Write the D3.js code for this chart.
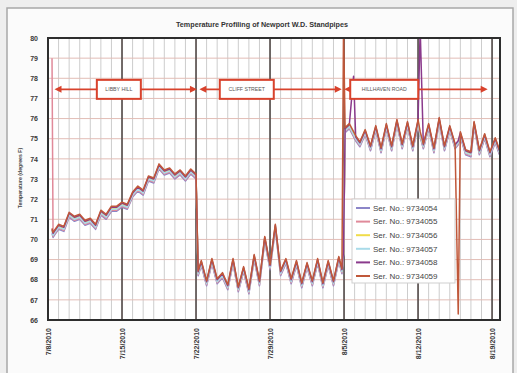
<!DOCTYPE html>
<html><head><meta charset="utf-8">
<script src="https://cdn.jsdelivr.net/npm/d3@7"></script>
<style>
body{margin:0;background:#eeeeee;}
svg{display:block;font-family:"Liberation Sans",Arial,sans-serif;}
</style></head><body>
<svg id="chart" width="517" height="373"></svg>
<script>
// ---- data ----
const title = "Temperature Profiling of Newport W.D. Standpipes";
const yLabel = "Temperature (degrees F)";
const yTicks = [66,67,68,69,70,71,72,73,74,75,76,77,78,79,80];
const xTickDays = [0,7,14,21,28,35,42];
const xTickLabels = ["7/8/2010","7/15/2010","7/22/2010","7/29/2010","8/5/2010","8/12/2010","8/19/2010"];
const seriesNames = ["Ser. No.: 9734054","Ser. No.: 9734055","Ser. No.: 9734056","Ser. No.: 9734057","Ser. No.: 9734058","Ser. No.: 9734059"];
const seriesColors = ["#8c86c8","#e08a9a","#f0dc4a","#a9dbe9","#8a3a8c","#c0583a"];
const sites = ["LIBBY HILL","CLIFF STREET","HILLHAVEN ROAD"];
const siteStartDays = [0.9,14.6,28.3];
const siteEndDays = [13.8,27.5,41.3];
const siteLabelDays = [6.7,18.8,31.8];
const arrowTemp = 77.45;
// days since 7/8/2010
const days = [0.38,0.48,0.6,1,1.5,2,2.5,3,3.5,4,4.5,5,5.5,6,6.5,7,7.5,8,8.5,9,9.5,10,10.5,11,11.5,12,12.5,13,13.5,14,14.2,14.5,15,15.5,16,16.5,17,17.5,18,18.5,19,19.5,20,20.5,21,21.5,22,22.5,23,23.5,24,24.5,25,25.5,26,26.5,27,27.5,27.8,27.95,28.1,28.5,28.9,29.1,29.5,30,30.5,31,31.5,32,32.5,33,33.5,34,34.5,35,35.2,35.5,36,36.5,37,37.5,38,38.5,38.8,39,39.5,40,40.3,40.8,41.3,41.8,42.3,42.7];
const s9734054 = [70.3,70.1,70.2,70.5,70.4,71.1,70.9,71.0,70.7,70.8,
70.5,71.2,71.0,71.4,71.4,71.6,71.5,72.1,72.4,72.2,
72.9,72.8,73.5,73.2,73.3,73.0,73.2,72.9,73.25,73.0,
68.2,68.7,67.7,68.8,67.8,68.1,67.5,68.8,67.4,68.4,
67.3,69.0,67.7,69.9,68.5,70.5,68.2,68.8,67.8,68.7,
67.6,68.6,67.7,68.8,67.6,68.7,67.7,68.9,68.3,69.2,
75.3,75.5,75.1,74.9,74.6,75.2,74.4,75.4,74.3,75.5,
74.4,75.7,74.5,75.6,74.4,75.7,75.1,74.5,75.5,74.3,
75.8,74.4,75.4,74.5,74.7,75.1,74.2,74.1,75.6,74.2,
75.0,74.1,74.8,74.2];
const s9734055 = [79.0,70.15,70.25,70.55,70.45,71.15,70.95,71.05,70.75,70.85,
70.55,71.25,71.05,71.45,71.45,71.65,71.55,72.15,72.45,72.25,
72.95,72.85,73.55,73.25,73.35,73.05,73.25,72.95,73.3,73.05,
68.25,68.75,67.75,68.85,67.85,68.15,67.55,68.85,67.45,68.45,
67.35,69.05,67.75,69.95,68.55,70.55,68.25,68.85,67.85,68.75,
67.65,68.65,67.75,68.85,67.65,68.75,67.75,68.95,68.35,69.25,
75.35,75.55,75.15,74.95,74.65,75.25,74.45,75.45,74.35,75.55,
74.45,75.75,74.55,75.65,74.45,75.75,75.15,74.55,75.55,74.35,
75.85,74.45,75.45,74.55,74.75,75.15,74.25,74.15,75.65,74.25,
75.05,74.15,74.85,74.25];
const s9734056 = [70.45,70.25,70.35,70.65,70.55,71.25,71.05,71.15,70.85,70.95,
70.65,71.35,71.15,71.55,71.55,71.75,71.65,72.25,72.55,72.35,
73.05,72.95,73.65,73.35,73.45,73.15,73.35,73.05,73.4,73.15,
68.35,68.85,67.85,68.95,67.95,68.25,67.65,68.95,67.55,68.55,
67.45,69.15,67.85,70.05,68.65,70.65,68.35,68.95,67.95,68.85,
67.75,68.75,67.85,68.95,67.75,68.85,67.85,69.05,68.45,69.35,
75.45,75.65,75.25,75.05,74.75,75.35,74.55,75.55,74.45,75.65,
74.55,75.85,74.65,75.75,74.55,75.85,75.25,74.65,75.65,74.45,
75.95,74.55,75.55,74.65,74.85,75.25,74.35,74.25,75.75,74.35,
75.15,74.25,74.95,74.35];
const s9734057 = [70.4,70.2,70.3,70.6,70.5,71.2,71.0,71.1,70.8,70.9,
70.6,71.3,71.1,71.5,71.5,71.7,71.6,72.2,72.5,72.3,
73.0,72.9,73.6,73.3,73.4,73.1,73.3,73.0,73.35,73.1,
68.3,68.8,67.8,68.9,67.9,68.2,67.6,68.9,67.5,68.5,
67.4,69.1,67.8,70.0,68.6,70.6,68.3,68.9,67.9,68.8,
67.7,68.7,67.8,68.9,67.7,68.8,67.8,69.0,68.4,69.3,
75.4,75.6,75.2,75.0,74.7,75.3,74.5,75.5,74.4,75.6,
74.5,75.8,74.6,75.7,74.5,75.8,75.2,74.6,75.6,74.4,
75.9,74.5,75.5,74.6,74.8,75.2,74.3,74.2,75.7,74.3,
75.1,74.2,74.9,74.3];
const s9734058 = [70.5,70.3,70.4,70.7,70.6,71.3,71.1,71.2,70.9,71.0,
70.7,71.4,71.2,71.6,71.6,71.8,71.7,72.3,72.6,72.4,
73.1,73.0,73.7,73.4,73.5,73.2,73.4,73.1,73.45,73.2,
68.4,68.9,67.9,69.0,68.0,68.3,67.7,69.0,67.6,68.6,
67.5,69.2,67.9,70.1,68.7,70.7,68.4,69.0,68.0,68.9,
67.8,68.8,67.9,69.0,67.8,68.9,67.9,69.1,68.5,69.4,
75.5,75.7,78.1,75.1,74.8,75.4,74.6,75.6,74.5,75.7,
74.6,75.9,74.7,75.8,74.6,75.9,80.5,74.7,75.7,74.5,
76.0,74.6,75.6,74.7,74.9,75.3,74.4,74.3,75.8,74.4,
75.2,74.3,75.0,74.4];
const s9734059 = [70.55,70.35,70.45,70.75,70.65,71.35,71.15,71.25,70.95,71.05,
70.75,71.45,71.25,71.65,71.65,71.85,71.75,72.35,72.65,72.45,
73.15,73.05,73.75,73.45,73.55,73.25,73.45,73.15,73.5,73.25,
68.45,68.95,67.95,69.05,68.05,68.35,67.75,69.05,67.65,68.65,
67.55,69.25,67.95,70.15,68.75,70.75,68.45,69.05,68.05,68.95,
67.85,68.85,67.95,69.05,67.85,68.95,67.95,69.15,68.55,80.5,
75.55,75.75,75.35,75.15,74.85,75.45,74.65,75.65,74.55,75.75,
74.65,75.95,74.75,75.85,74.65,75.95,75.35,74.75,75.75,74.55,
76.05,74.65,75.65,74.75,66.3,75.35,74.45,74.35,75.85,74.45,
75.25,74.35,75.05,74.45];
const seriesValues = [s9734054,s9734055,s9734056,s9734057,s9734058,s9734059];

// ---- chart ----
const svg = d3.select("#chart");
const L = 48, R = 500, T = 38, B = 320;
const x = d3.scaleLinear().domain([0, 42.75]).range([L, R]);
const y = d3.scaleLinear().domain([66, 80]).range([B, T]);

// outer frame
svg.append("rect").attr("x",7).attr("y",8).attr("width",506).attr("height",380)
  .attr("fill","#fbfbfb").attr("stroke","#a8a8a8").attr("stroke-width",1.5);

svg.append("text").attr("x",262).attr("y",27).attr("text-anchor","middle")
  .attr("font-size",7.2).attr("font-weight","bold").attr("fill","#333").text(title);

// plot background
svg.append("rect").attr("x",L).attr("y",T).attr("width",R-L).attr("height",B-T).attr("fill","#fff");

// grid
const g = svg.append("g");
const dayLines = d3.range(1, 43).filter(d => d % 7 !== 0);
g.selectAll(".vmin").data(dayLines).enter().append("line")
  .attr("x1",d=>x(d)).attr("x2",d=>x(d)).attr("y1",T).attr("y2",B)
  .attr("stroke","#cdcdcd").attr("stroke-width",1);
g.selectAll(".hmaj").data(yTicks).enter().append("line")
  .attr("x1",L).attr("x2",R).attr("y1",d=>y(d)).attr("y2",d=>y(d))
  .attr("stroke","#e2bdb6").attr("stroke-width",1);
g.selectAll(".vmaj").data(xTickDays.slice(1)).enter().append("line")
  .attr("x1",d=>x(d)).attr("x2",d=>x(d)).attr("y1",T).attr("y2",B)
  .attr("stroke","#625a58").attr("stroke-width",1.8);

// clip
svg.append("clipPath").attr("id","clip").append("rect").attr("x",L).attr("y",T).attr("width",R-L).attr("height",B-T);

const line = d3.line().x((d,i)=>x(days[i])).y(d=>y(d));
const lg = svg.append("g").attr("clip-path","url(#clip)");
seriesValues.forEach((vals,k)=>{
  lg.append("path").datum(vals).attr("d",line).attr("fill","none")
    .attr("stroke",seriesColors[k]).attr("stroke-width",1.5).attr("stroke-linejoin","round");
});

// site annotations
const red = "#d8422c";
const ag = svg.append("g");
sites.forEach((s,i)=>{
  const ya = y(arrowTemp);
  const x1 = x(siteStartDays[i]), x2 = x(siteEndDays[i]);
  ag.append("line").attr("x1",x1).attr("x2",x2).attr("y1",ya).attr("y2",ya).attr("stroke",red).attr("stroke-width",1.8);
  ag.append("path").attr("d",`M${x1-3},${ya}L${x1+4},${ya-3.5}L${x1+4},${ya+3.5}Z`).attr("fill",red);
  ag.append("path").attr("d",`M${x2+3},${ya}L${x2-4},${ya-3.5}L${x2-4},${ya+3.5}Z`).attr("fill",red);
  const cx = x(siteLabelDays[i]);
  const w = [44,54,68][i];
  ag.append("rect").attr("x",cx-w/2).attr("y",ya-9.5).attr("width",w).attr("height",19)
    .attr("fill","#fff").attr("stroke",red).attr("stroke-width",2);
  ag.append("text").attr("x",cx).attr("y",ya+1.8).attr("text-anchor","middle")
    .attr("font-size",5.2).attr("fill","#555").text(s);
});

// frame
svg.append("rect").attr("x",L).attr("y",T).attr("width",R-L).attr("height",B-T)
  .attr("fill","none").attr("stroke","#2e2e2e").attr("stroke-width",2);

// y axis
const ya = svg.append("g").attr("transform",`translate(${L},0)`)
  .call(d3.axisLeft(y).tickValues(yTicks).tickSize(0).tickPadding(10).tickFormat(d3.format("d")));
ya.select(".domain").remove();
ya.selectAll("text").attr("font-size",7).attr("font-weight","bold").attr("fill","#3a3a3a")
  .attr("font-family","'Liberation Sans',Arial,sans-serif");

svg.append("text").attr("transform","translate(22,178) rotate(-90)").attr("text-anchor","middle")
  .attr("font-size",5.2).attr("font-weight","bold").attr("fill","#444").text(yLabel);

// x axis
const xa = svg.append("g").attr("transform",`translate(0,${B})`)
  .call(d3.axisBottom(x).tickValues(xTickDays).tickSize(0).tickFormat((d,i)=>xTickLabels[i]));
xa.select(".domain").remove();
xa.selectAll("text").attr("transform","rotate(-90)").attr("text-anchor","end")
  .attr("x",-8).attr("y",0).attr("dy","0.35em").attr("dx",0)
  .attr("font-size",7).attr("font-weight","bold").attr("fill","#3a3a3a")
  .attr("font-family","'Liberation Sans',Arial,sans-serif");

// legend
const lgd = svg.append("g").attr("transform","translate(352,199)");
lgd.append("rect").attr("width",103).attr("height",84).attr("fill","#fff").attr("stroke","#cfcfcf").attr("stroke-width",1);
seriesNames.forEach((n,i)=>{
  const yy = 9 + i*13.6;
  lgd.append("line").attr("x1",4).attr("x2",18).attr("y1",yy).attr("y2",yy).attr("stroke",seriesColors[i]).attr("stroke-width",2);
  lgd.append("text").attr("x",21).attr("y",yy+2.8).attr("font-size",8).attr("fill","#444").text(n);
});
</script>
</body></html>
